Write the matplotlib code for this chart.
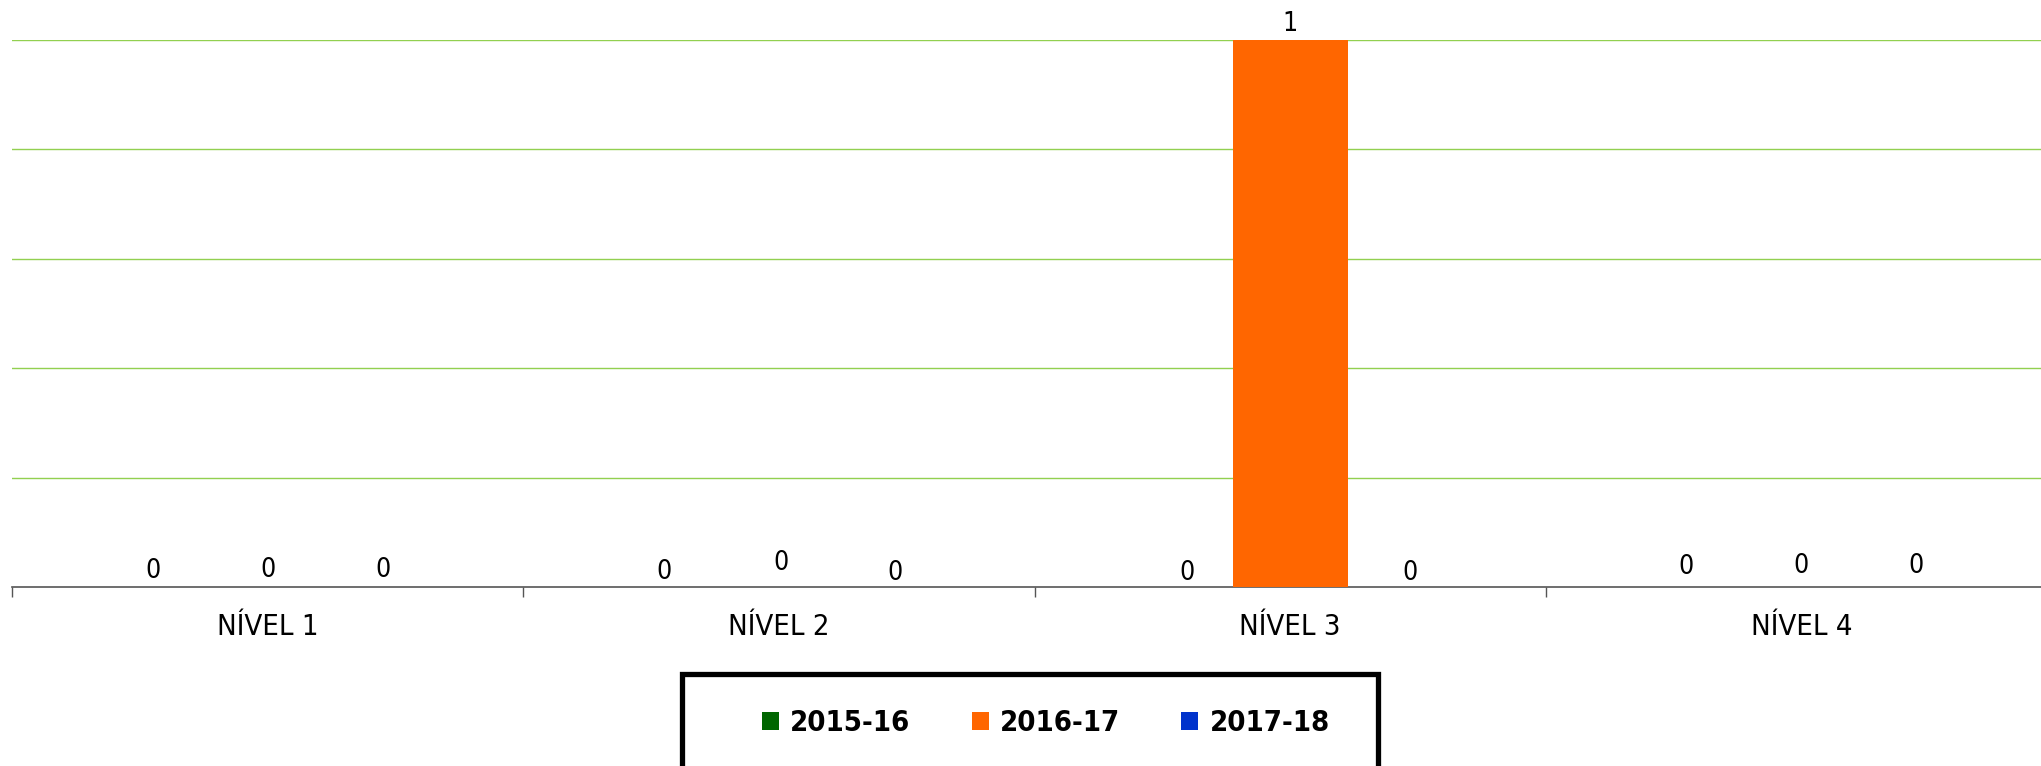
import matplotlib
matplotlib.use("Agg")
import matplotlib.pyplot as plt
from matplotlib import font_manager
from matplotlib.patches import Rectangle
import numpy as np

# datos
niveles = ["NÍVEL 1", "NÍVEL 2", "NÍVEL 3", "NÍVEL 4"]
cursos = ["2015-16", "2016-17", "2017-18"]
v_2015 = [0, 0, 0, 0]
v_2016 = [0, 0, 1, 0]
v_2017 = [0, 0, 0, 0]
colores = ["#006600", "#FF6600", "#0033CC"]

# pequeños desplazamientos de las etiquetas (px), como en el original
nudge = [[(0, 0), (0, 1), (0, 1)],
         [(0, -1), (2, 8), (1, -2)],
         [(12, -2), (0, 0), (5, -2)],
         [(0, 4), (0, 5), (0, 5)]]

# fuente estrecha si existe
disponibles = {f.name for f in font_manager.fontManager.ttflist}
if "Liberation Sans Narrow" in disponibles:
    fuente, estira = ["Liberation Sans Narrow", "DejaVu Sans"], "normal"
else:
    fuente, estira = ["DejaVu Sans"], "condensed"
plt.rcParams["font.family"] = fuente
plt.rcParams["font.stretch"] = estira

fig = plt.figure(figsize=(20.41, 7.66), dpi=100)
ax = fig.add_axes([12 / 2041, 179 / 766, 2045 / 2041, 547 / 766])

x = np.arange(len(niveles))
ancho = 0.225
series = [v_2015, v_2016, v_2017]
for i, (vals, col, lab) in enumerate(zip(series, colores, cursos)):
    pos = x + (i - 1) * ancho
    ax.bar(pos, vals, width=ancho, color=col, label=lab, zorder=3)
    for j, (px, v) in enumerate(zip(pos, vals)):
        dx, dy = nudge[j][i]
        ax.annotate(str(v), (px, v), xytext=(dx * 0.72, 11.5 + dy * 0.72),
                    textcoords="offset points", ha="center", va="center",
                    fontsize=19, color="black")

ax.set_xlim(-0.5, 3.5)
ax.set_ylim(0, 1)
ax.set_yticks([0.2, 0.4, 0.6, 0.8, 1.0])
ax.yaxis.grid(True, color="#92D050", linewidth=1)
ax.set_axisbelow(True)
ax.tick_params(axis="y", length=0, labelleft=False)

ax.set_xticks(x)
ax.set_xticklabels(niveles, fontsize=21)
ax.set_xticks(np.arange(-0.5, 4.0, 1.0), minor=True)
ax.tick_params(axis="x", which="major", length=0, pad=19)
ax.tick_params(axis="x", which="minor", length=7, color="#555555", width=1)

for s in ["top", "right", "left"]:
    ax.spines[s].set_visible(False)
ax.spines["bottom"].set_color("#555555")
ax.spines["bottom"].set_linewidth(1.2)

# leyenda
leg = fig.legend(loc="center", bbox_to_anchor=(1046 / 2041, 43 / 766), ncol=3,
                 frameon=False, handlelength=0.58, handleheight=0.58,
                 handletextpad=0.38, columnspacing=2.1,
                 prop={"family": fuente, "weight": "bold", "size": 21,
                       "stretch": estira})
fig.patches.append(Rectangle((682 / 2041, -0.05), 696 / 2041, 92 / 766 + 0.05,
                             transform=fig.transFigure, fill=False,
                             edgecolor="black", linewidth=3.8))

fig.savefig("out.png", dpi=100)
